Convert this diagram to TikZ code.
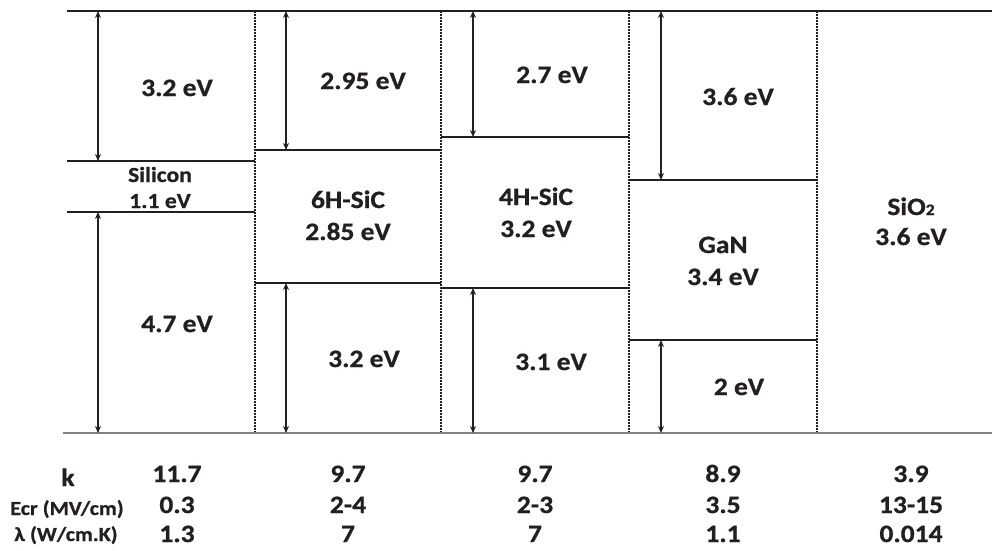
\documentclass[tikz,border=0pt]{standalone}
\usepackage{fontspec}
\setmainfont{Carlito}[FakeStretch=1.1, BoldFeatures={FakeBold=0.8}]
\usetikzlibrary{arrows.meta}
\definecolor{ink}{RGB}{35,31,32}
\definecolor{floorgray}{RGB}{130,130,130}
\tikzset{
  level/.style={ink, line width=2.2pt},
  floor/.style={floorgray, line width=2.2pt},
  band/.style={ink, line width=2.2pt},
  divider/.style={ink, line width=1.6pt, dash pattern=on 1.5pt off 1.5pt},
  gap/.style={ink, line width=1.8pt, {Stealth[length=7pt,width=6pt]}-{Stealth[length=7pt,width=6pt]}},
  lbl/.style={text=ink, font=\fontsize{25}{32}\selectfont\bfseries, align=center, anchor=base, inner sep=0pt},
  lblsmall/.style={text=ink, font=\fontsize{21.5}{26}\selectfont\bfseries, align=center, anchor=base, inner sep=0pt},
  rowlbl/.style={text=ink, font=\fontsize{20}{24}\selectfont\bfseries, anchor=base, inner sep=0pt},
}
\begin{document}
\begin{tikzpicture}[x=1pt,y=-1pt]
  \useasboundingbox (0,0) rectangle (992,550);
  % vacuum level and reference level
  \coordinate (top-l) at (67,11);
  \coordinate (top-r) at (992,11);
  \coordinate (bot-l) at (63,433);
  \coordinate (bot-r) at (992,433);
  % dotted column dividers
  \draw[divider] (255,11) -- (255,433);
  \draw[divider] (441,11) -- (441,433);
  \draw[divider] (629,11) -- (629,433);
  \draw[divider] (817,11) -- (817,433);
  \draw[level] (top-l) -- (top-r);
  \draw[floor] (bot-l) -- (bot-r);

  % Silicon
  \coordinate (si-a) at (98,11);
  \coordinate (si-cb) at (67,161);
  \coordinate (si-vb) at (67,212);
  \draw[band] (si-cb) -- ++(188,0);
  \draw[band] (si-vb) -- ++(188,0);
  \draw[gap] (si-a) -- (si-a |- si-cb);
  \draw[gap] (si-a |- si-vb) -- (si-a |- bot-l);
  \node[lbl] (si-up) at (177,96) {3.2 eV};
  \node[lblsmall] (si-name) at (160,208) {Silicon\\1.1 eV};
  \node[lbl] (si-down) at (177,332) {4.7 eV};

  % 6H-SiC
  \coordinate (sic6-a) at (286,11);
  \coordinate (sic6-cb) at (255,150);
  \coordinate (sic6-vb) at (255,283);
  \draw[band] (sic6-cb) -- ++(186,0);
  \draw[band] (sic6-vb) -- ++(186,0);
  \draw[gap] (sic6-a) -- (sic6-a |- sic6-cb);
  \draw[gap] (sic6-a |- sic6-vb) -- (sic6-a |- bot-l);
  \node[lbl] (sic6-up) at (363,89) {2.95 eV};
  \node[lbl] (sic6-name) at (348,240) {6H-SiC\\2.85 eV};
  \node[lbl] (sic6-down) at (364,367) {3.2 eV};

  % 4H-SiC
  \coordinate (sic4-a) at (473,11);
  \coordinate (sic4-cb) at (441,137);
  \coordinate (sic4-vb) at (441,288);
  \draw[band] (sic4-cb) -- ++(188,0);
  \draw[band] (sic4-vb) -- ++(188,0);
  \draw[gap] (sic4-a) -- (sic4-a |- sic4-cb);
  \draw[gap] (sic4-a |- sic4-vb) -- (sic4-a |- bot-l);
  \node[lbl] (sic4-up) at (552,83) {2.7 eV};
  \node[lbl] (sic4-name) at (536,237) {4H-SiC\\3.2 eV};
  \node[lbl] (sic4-down) at (551,370) {3.1 eV};

  % GaN
  \coordinate (gan-a) at (661,11);
  \coordinate (gan-cb) at (629,180);
  \coordinate (gan-vb) at (629,340);
  \draw[band] (gan-cb) -- ++(188,0);
  \draw[band] (gan-vb) -- ++(188,0);
  \draw[gap] (gan-a) -- (gan-a |- gan-cb);
  \draw[gap] (gan-a |- gan-vb) -- (gan-a |- bot-l);
  \node[lbl] (gan-up) at (738,105) {3.6 eV};
  \node[lbl] (gan-name) at (723,285) {GaN\\3.4 eV};
  \node[lbl] (gan-down) at (739,395) {2 eV};

  % SiO2
  \node[lbl] (sio2-name) at (911,245) {SiO{\fontsize{16}{16}\selectfont 2}\\[-2pt]3.6 eV};

  % material parameters
  \node[lbl] (k-row) at (68,486) {k};
  \node[rowlbl] (ecr-row) at (67,515) {Ecr (MV/cm)};
  \node[rowlbl] (lam-row) at (66,541) {λ (W/cm.K)};
  \node[lbl] (si-k) at (177,482) {11.7};
  \node[lbl] (si-ecr) at (177,513) {0.3};
  \node[lbl] (si-lam) at (177,542) {1.3};
  \node[lbl] (sic6-k) at (348,482) {9.7};
  \node[lbl] (sic6-ecr) at (348,513) {2-4};
  \node[lbl] (sic6-lam) at (348,542) {7};
  \node[lbl] (sic4-k) at (535,482) {9.7};
  \node[lbl] (sic4-ecr) at (535,513) {2-3};
  \node[lbl] (sic4-lam) at (535,542) {7};
  \node[lbl] (gan-k) at (723,482) {8.9};
  \node[lbl] (gan-ecr) at (723,513) {3.5};
  \node[lbl] (gan-lam) at (723,542) {1.1};
  \node[lbl] (sio2-k) at (911,482) {3.9};
  \node[lbl] (sio2-ecr) at (911,513) {13-15};
  \node[lbl] (sio2-lam) at (911,542) {0.014};
\end{tikzpicture}
\end{document}
